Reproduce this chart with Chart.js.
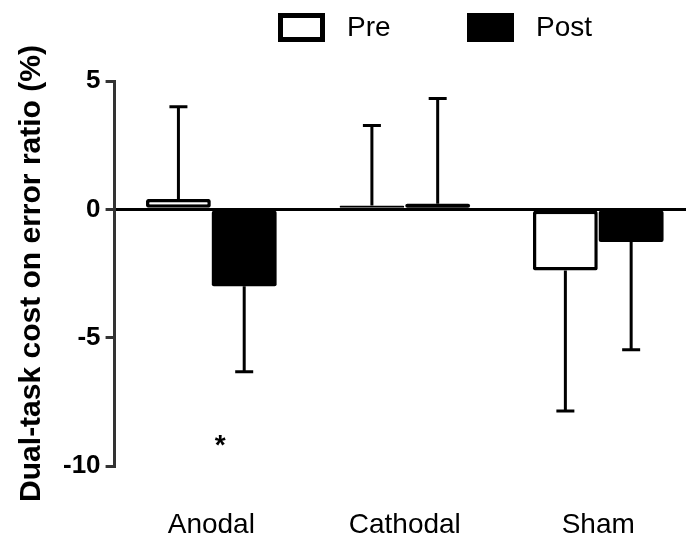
<!DOCTYPE html>
<html>
<head>
<meta charset="utf-8">
<script src="https://cdn.jsdelivr.net/npm/chart.js@4"></script>
<style>
  html, body { margin: 0; padding: 0; background: #fff; overflow: hidden; }
  #wrap { width: 695px; height: 547px; }
</style>
</head>
<body>
<div id="wrap"><canvas id="chart"></canvas></div>
<script>
const categories = ["Anodal", "Cathodal", "Sham"];
const preValues = [0.4, 0.15, -2.38];
const postValues = [-3.0, 0.22, -1.27];
const preSD = [3.6, 3.12, 5.48];
const postSD = [3.33, 4.1, 4.2];
const stars = ["*", "", ""];
const yTicks = [-10, -5, 0, 5];

const FONT = "'Liberation Sans', Arial, sans-serif";

// one-sided error bars, drawn away from zero
const errorBars = {
  id: "errorBars",
  afterDatasetsDraw(chart) {
    const ctx = chart.ctx;
    const yScale = chart.scales.y;
    chart.data.datasets.forEach((ds, i) => {
      chart.getDatasetMeta(i).data.forEach((bar, j) => {
        const v = ds.data[j];
        const end = v >= 0 ? v + ds.errors[j] : v - ds.errors[j];
        const yEnd = yScale.getPixelForValue(end);
        ctx.save();
        ctx.strokeStyle = "#000";
        ctx.lineWidth = 3;
        ctx.beginPath();
        ctx.moveTo(bar.x, bar.y);
        ctx.lineTo(bar.x, yEnd);
        ctx.moveTo(bar.x - 9, yEnd);
        ctx.lineTo(bar.x + 9, yEnd);
        ctx.stroke();
        ctx.restore();
      });
    });
  },
};

// significance marks under the post bars
const starMarks = {
  id: "starMarks",
  afterDatasetsDraw(chart) {
    const ctx = chart.ctx;
    const { x, y } = chart.scales;
    ctx.save();
    ctx.font = "bold 28px " + FONT;
    ctx.fillStyle = "#000";
    ctx.textAlign = "center";
    stars.forEach((s, j) => {
      if (!s) return;
      const m = ctx.measureText(s);
      const yc = y.getPixelForValue(-9);
      const base = yc + (m.actualBoundingBoxAscent - m.actualBoundingBoxDescent) / 2;
      ctx.fillText(s, x.getPixelForValue(j) + 9, base);
    });
    ctx.restore();
  },
};

// legend drawn by hand so the gap between items can be wide
const legendBoxes = {
  id: "legendBoxes",
  afterDraw(chart) {
    const ctx = chart.ctx;
    const spots = [278, 467];
    ctx.save();
    chart.data.datasets.forEach((ds, i) => {
      const left = spots[i], top = 13, w = 47, h = 29, bw = 5;
      ctx.fillStyle = ds.borderColor;
      ctx.fillRect(left, top, w, h);
      ctx.fillStyle = ds.backgroundColor;
      ctx.fillRect(left + bw, top + bw, w - 2 * bw, h - 2 * bw);
      ctx.fillStyle = "#000";
      ctx.font = "28px " + FONT;
      ctx.textBaseline = "middle";
      ctx.fillText(ds.label, left + w + 22, top + h / 2 + 1);
    });
    ctx.restore();
  },
};

const ctx = document.getElementById("chart").getContext("2d");

new Chart(ctx, {
  type: "bar",
  data: {
    labels: categories,
    datasets: [
      {
        label: "Pre",
        data: preValues,
        errors: preSD,
        backgroundColor: "#fff",
        borderColor: "#000",
        borderWidth: 3.5,
        borderSkipped: false,
        borderRadius: 2,
        categoryPercentage: 0.68,
        barPercentage: 0.985,
      },
      {
        label: "Post",
        data: postValues,
        errors: postSD,
        backgroundColor: "#000",
        borderColor: "#000",
        borderWidth: 0,
        borderSkipped: false,
        borderRadius: 2,
        categoryPercentage: 0.68,
        barPercentage: 0.985,
      },
    ],
  },
  options: {
    responsive: true,
    maintainAspectRatio: false,
    animation: false,
    layout: { padding: { top: 81, left: 0, right: 0, bottom: 3 } },
    plugins: {
      legend: { display: false },
      tooltip: { enabled: false },
    },
    scales: {
      x: {
        grid: { display: false, drawTicks: false },
        border: { display: false },
        afterFit: (axis) => {
          axis.height = 78;
        },
        ticks: {
          color: "#000",
          padding: 42,
          font: { family: FONT, size: 28 },
        },
      },
      y: {
        min: -10,
        max: 5,
        afterBuildTicks: (axis) => {
          axis.ticks = yTicks.map((v) => ({ value: v }));
        },
        grid: {
          color: (c) => (c.tick && c.tick.value === 0 ? "#000" : "rgba(0,0,0,0)"),
          lineWidth: 3,
          tickColor: "#333",
          tickLength: 9,
          tickWidth: 3,
        },
        border: { display: true, color: "#333", width: 3 },
        ticks: {
          color: "#000",
          padding: 5,
          font: { family: FONT, size: 26, weight: "bold" },
        },
        title: {
          display: true,
          text: "Dual-task cost on error ratio (%)",
          color: "#000",
          padding: { top: 14, bottom: 8 },
          font: { family: FONT, size: 30, weight: "bold" },
        },
      },
    },
  },
  plugins: [errorBars, starMarks, legendBoxes],
});
</script>
</body>
</html>
